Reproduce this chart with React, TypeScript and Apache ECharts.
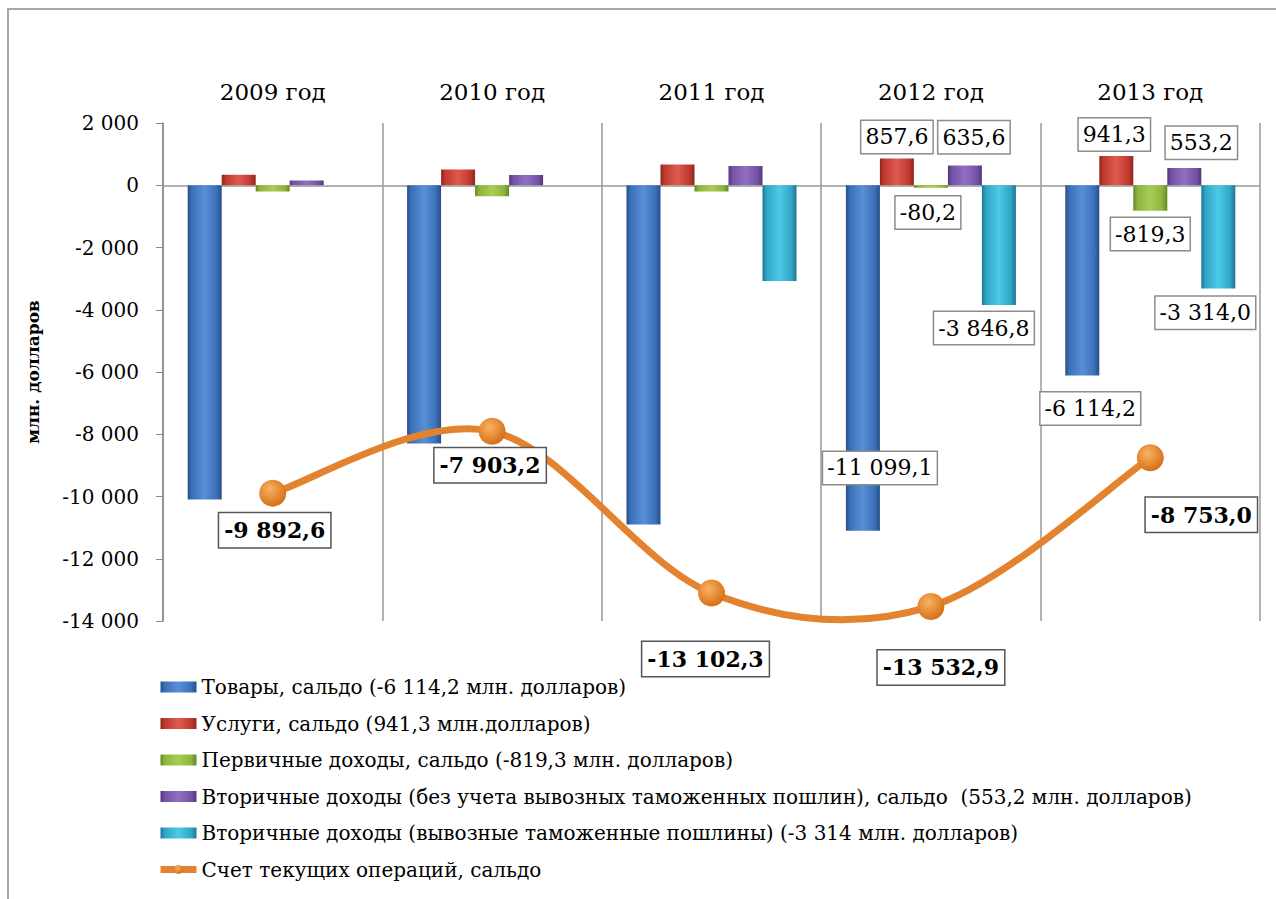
import React, { useEffect, useRef } from "react";
import * as echarts from "echarts";

const years = ["2009 год", "2010 год", "2011 год", "2012 год", "2013 год"];
const goods = [-10100, -8300, -10900, -11099.1, -6114.2];
const services = [340, 510, 665, 857.6, 941.3];
const primary = [-200, -350, -200, -80.2, -819.3];
const secondary = [150, 330, 620, 635.6, 553.2];
const duties: (number | null)[] = [null, null, -3080, -3846.8, -3314.0];
const current = [-9892.6, -7903.2, -13102.3, -13532.9, -8753.0];

const seriesNames = [
  "Товары, сальдо (-6 114,2 млн. долларов)",
  "Услуги, сальдо (941,3 млн.долларов)",
  "Первичные доходы, сальдо (-819,3 млн. долларов)",
  "Вторичные доходы (без учета вывозных таможенных пошлин), сальдо  (553,2 млн. долларов)",
  "Вторичные доходы (вывозные таможенные пошлины) (-3 314 млн. долларов)",
  "Счет текущих операций, сальдо",
];

const labelledYears = [3, 4];

const barLabelOffsets: Record<number, Record<number, [number, number]>> = {
  0: { 3: [17, 110], 4: [8, 128] },
  1: { 3: [0, -35], 4: [-2, -36] },
  2: { 3: [-3, 26], 4: [0, 36] },
  3: { 3: [9, -38], 4: [17, -34] },
  4: { 3: [-15, 83], 4: [-13, 76] },
};
const lineLabelOffsets: [number, number][] = [
  [2, 37],
  [-2, 34],
  [-6, 66],
  [10, 61],
  [51, 57],
];

const FONT = "DejaVu Serif";
const ORANGE = "#e3822f";

function fmt(v: number, dec: number): string {
  const neg = v < 0;
  const a = Math.abs(v);
  const s = dec ? a.toFixed(dec) : Math.round(a).toString();
  let [i, d] = s.split(".");
  i = i.replace(/\B(?=(\d{3})+(?!\d))/g, " ");
  return (neg ? "-" : "") + i + (d ? "," + d : "");
}

const colors = [
  ["#5a8fd6", "#3a70b8", "#264f88"],
  ["#de5a50", "#c0392f", "#8e261e"],
  ["#a9cc55", "#8db43c", "#66852a"],
  ["#9170c2", "#7452a6", "#513878"],
  ["#4ccbe8", "#31a5c6", "#1f7590"],
];

function barGradient(c: string[]) {
  return new echarts.graphic.LinearGradient(0, 0, 1, 0, [
    { offset: 0, color: c[2] },
    { offset: 0.12, color: c[1] },
    { offset: 0.5, color: c[0] },
    { offset: 0.85, color: c[1] },
    { offset: 1, color: c[2] },
  ]);
}

export default function App() {
  const ref = useRef<HTMLDivElement>(null);
  useEffect(() => {
    if (!ref.current) return;
    const chart = echarts.init(ref.current, undefined, { renderer: "svg" });
    const barArrays = [goods, services, primary, secondary, duties];
    const barLabelBase = {
      show: true,
      position: "inside",
      fontSize: 22,
      fontFamily: FONT,
      color: "#000",
      backgroundColor: "#fff",
      borderColor: "#8c8c8c",
      borderWidth: 1.5,
      padding: [5, 4],
      formatter: (p: any) => fmt(p.value, 1),
    };
    const barSeries = barArrays.map((arr, si) => ({
      name: seriesNames[si],
      type: "bar",
      barWidth: 34,
      barGap: "0%",
      z: 2,
      itemStyle: { color: barGradient(colors[si]) },
      label: { show: false },
      data: arr.map((v, i) =>
        labelledYears.includes(i) && v !== null
          ? { value: v, label: { ...barLabelBase, offset: barLabelOffsets[si][i] } }
          : v
      ),
      ...(si === 0
        ? {
            markLine: {
              silent: true,
              symbol: "none",
              label: { show: false },
              lineStyle: { color: "#999", type: "solid", width: 1.5 },
              data: [{ yAxis: 0 }],
              z: 1,
            },
          }
        : {}),
    }));

    // smooth curve (Excel-style bezier) through the current-account points
    const curveSeries = {
      type: "custom",
      name: "curve",
      z: 4,
      silent: true,
      data: [[0, current[0]]],
      renderItem: (_params: any, api: any) => {
        const pts = current.map((v, i) => api.coord([i, v]));
        const children: any[] = [];
        for (let i = 0; i < pts.length - 1; i++) {
          const p0 = pts[Math.max(i - 1, 0)];
          const p1 = pts[i];
          const p2 = pts[i + 1];
          const p3 = pts[Math.min(i + 2, pts.length - 1)];
          children.push({
            type: "bezierCurve",
            shape: {
              x1: p1[0],
              y1: p1[1],
              x2: p2[0],
              y2: p2[1],
              cpx1: p1[0] + (p2[0] - p0[0]) / 6,
              cpy1: p1[1] + (p2[1] - p0[1]) / 6,
              cpx2: p2[0] - (p3[0] - p1[0]) / 6,
              cpy2: p2[1] - (p3[1] - p1[1]) / 6,
            },
            style: { stroke: ORANGE, lineWidth: 7, fill: "none", lineCap: "round" },
          });
        }
        return { type: "group", children };
      },
    };

    const lineSeries = {
      name: seriesNames[5],
      type: "line",
      z: 5,
      symbol: "circle",
      symbolSize: 27,
      lineStyle: { color: ORANGE, width: 7, opacity: 0 },
      itemStyle: {
        color: new echarts.graphic.RadialGradient(0.4, 0.35, 0.7, [
          { offset: 0, color: "#f9b260" },
          { offset: 1, color: "#d46a12" },
        ]),
      },
      data: current.map((v, i) => ({
        value: v,
        label: {
          show: true,
          position: "inside",
          offset: lineLabelOffsets[i],
          fontSize: 22,
          fontWeight: "bold",
          fontFamily: FONT,
          color: "#000",
          backgroundColor: "#fff",
          borderColor: "#555",
          borderWidth: 1.5,
          padding: [6, 5],
          formatter: (p: any) => fmt(p.value, 1),
        },
      })),
    };

    chart.setOption({
      animation: false,
      backgroundColor: "#fff",
      textStyle: { fontFamily: FONT },
      graphic: [
        {
          type: "rect",
          shape: { x: 8, y: 9, width: 1400, height: 1000 },
          style: { fill: "none", stroke: "#a6a6a6", lineWidth: 2 },
          silent: true,
          z: 0,
        },
      ],
      grid: { left: 163, right: 16, top: 123, bottom: 278, containLabel: false },
      legend: {
        orient: "vertical",
        left: 152,
        top: 672,
        itemWidth: 36,
        itemHeight: 11,
        itemGap: 16.5,
        textStyle: { fontSize: 20, fontFamily: FONT, color: "#000" },
        data: seriesNames.map((n, i) =>
          i < 5
            ? { name: n, icon: "rect" }
            : { name: n, lineStyle: { color: ORANGE, width: 7, opacity: 1 } }
        ),
      },
      xAxis: {
        type: "category",
        position: "top",
        data: years,
        axisLine: { show: false, onZero: false },
        axisTick: { show: false },
        axisLabel: { fontSize: 23, fontFamily: FONT, color: "#000", margin: 20 },
        splitLine: { show: true, lineStyle: { color: "#999", width: 1.5 } },
      },
      yAxis: {
        type: "value",
        min: -14000,
        max: 2000,
        interval: 2000,
        name: "млн. долларов",
        nameLocation: "middle",
        nameGap: 122,
        nameRotate: 90,
        nameTextStyle: { fontSize: 17, fontWeight: "bold", fontFamily: FONT, color: "#000" },
        axisLine: { show: true, lineStyle: { color: "#888", width: 1.5 } },
        axisTick: { show: true, length: 7, lineStyle: { color: "#888" } },
        splitLine: { show: false },
        axisLabel: {
          fontSize: 20,
          fontFamily: FONT,
          color: "#000",
          margin: 24,
          formatter: (v: number) => fmt(v, 0),
        },
      },
      series: [...barSeries, curveSeries, lineSeries],
    });
    return () => chart.dispose();
  }, []);
  return (
    <div
      ref={ref}
      style={{ position: "fixed", left: 0, top: 0, width: 1276, height: 899, background: "#fff" }}
    />
  );
}
